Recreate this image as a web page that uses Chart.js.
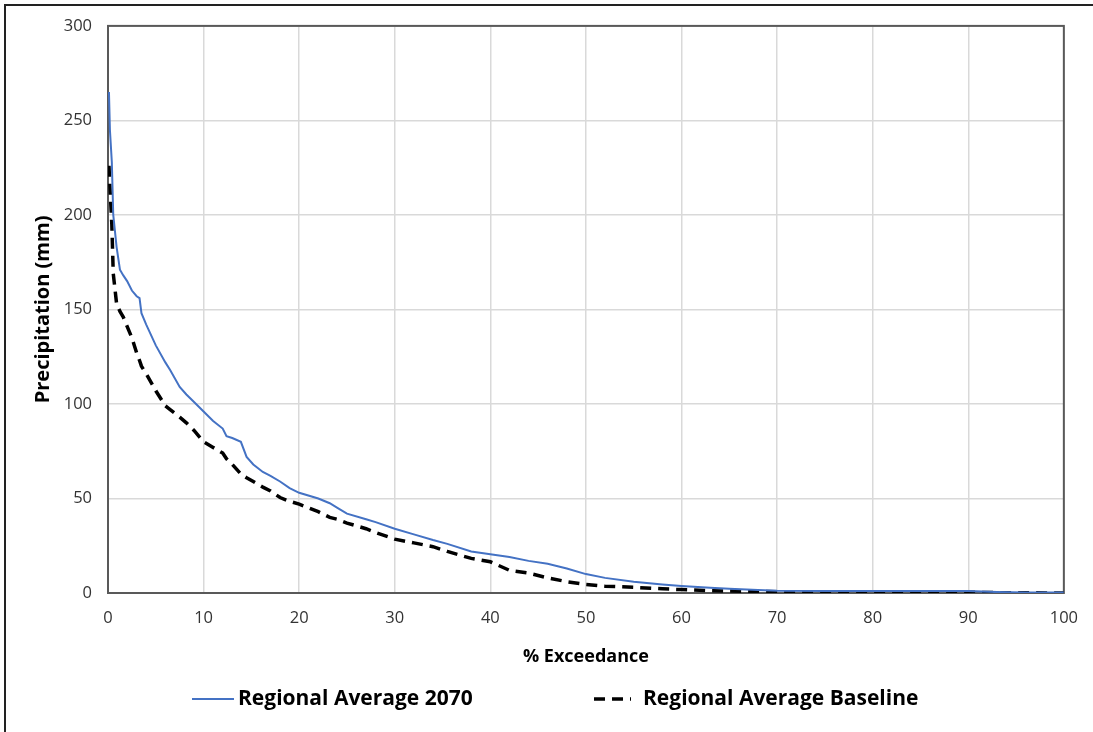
<!DOCTYPE html>
<html>
<head>
<meta charset="utf-8">
<script src="https://cdn.jsdelivr.net/npm/chart.js@4/dist/chart.umd.min.js"></script>
<style>
  html, body { margin: 0; padding: 0; background: #fff; }
  #frame { position: absolute; left: 4px; top: 4px; width: 1089px; height: 728px;
           border-left: 2px solid #222; border-top: 2px solid #222; }
  #wrap { position: absolute; left: 0; top: 0; width: 1093px; height: 732px; }
</style>
</head>
<body>
<div id="frame"></div>
<div id="wrap"><canvas id="chart"></canvas></div>
<script>
// % exceedance (x) and precipitation values (mm)
const exceedance = [0.1, 0.2, 0.4, 0.55, 0.9, 1.25, 1.6, 2, 2.5, 3, 3.3, 3.5, 4, 5, 6, 6.5, 7.5, 8.2, 9, 10,
  11, 12, 12.4, 13, 13.9, 14.5, 15.2, 16.2, 17, 18, 19, 20, 22, 23.2, 24, 25, 27, 28, 30, 32,
  34, 35.5, 38, 40, 42, 44, 46, 48, 50, 52, 55, 58, 60, 63, 65, 68, 70, 75, 80, 85, 90, 93, 96, 100];

const avg2070 = [265, 245, 228, 200, 183, 171, 168, 165, 160, 157, 156, 148, 142, 131, 122, 118, 109, 105, 101, 96,
  91, 87, 83, 82, 80, 72, 68, 64, 62, 59, 55.5, 53, 50, 47.5, 45, 42, 39, 37.5, 34, 31,
  28, 26, 22, 20.5, 19, 17, 15.5, 13, 10, 8, 6, 4.5, 3.7, 2.8, 2.2, 1.6, 1.2, 1, 1, 1, 1, 0.5, 0.3, 0.2];

const avgBaseline = [226, 215, 195, 169, 153, 149, 146, 141, 135, 127, 123, 120, 116, 107, 99, 97, 93, 90, 86, 80,
  77, 74, 71, 68, 63, 61, 59, 56, 54, 50.5, 48.5, 47, 43, 40, 39, 37, 34, 32, 28.5, 26.5,
  24.5, 22, 18.3, 16.5, 12, 10.5, 8, 6, 4.5, 3.6, 3, 2.2, 1.8, 1.2, 1, 0.8, 0.7, 0.6, 0.6, 0.5, 0.4, 0.2, 0.1, 0];

const seriesNames = ['Regional Average 2070', 'Regional Average Baseline'];

const FONT = '"Open Sans", "DejaVu Sans", sans-serif';

function toPoints(values) {
  return exceedance.map((x, i) => ({ x: x, y: values[i] }));
}

// box around the plot area (Excel style)
const plotBox = {
  id: 'plotBox',
  beforeDatasetsDraw(chart) {
    const a = chart.chartArea, ctx = chart.ctx;
    ctx.save();
    ctx.strokeStyle = '#595959';
    ctx.lineWidth = 2;
    ctx.strokeRect(a.left, a.top, a.right - a.left, a.bottom - a.top);
    ctx.restore();
  }
};

// legend under the x-axis title
const bottomLegend = {
  id: 'bottomLegend',
  afterDraw(chart) {
    const ctx = chart.ctx;
    const y = 699;
    ctx.save();
    ctx.font = 'bold 21px ' + FONT;
    ctx.fillStyle = '#000';
    ctx.textBaseline = 'middle';

    ctx.strokeStyle = '#4472C4';
    ctx.lineWidth = 2;
    ctx.beginPath(); ctx.moveTo(192, y); ctx.lineTo(234, y); ctx.stroke();
    ctx.fillText(seriesNames[0], 238, y);

    ctx.strokeStyle = '#000';
    ctx.lineWidth = 3.5;
    ctx.setLineDash([11, 7]);
    ctx.beginPath(); ctx.moveTo(594, y); ctx.lineTo(631, y); ctx.stroke();
    ctx.setLineDash([]);
    ctx.fillText(seriesNames[1], 643, y);
    ctx.restore();
  }
};

const ctx = document.getElementById('chart').getContext('2d');
const chart = new Chart(ctx, {
  type: 'line',
  data: {
    datasets: [{
      label: seriesNames[0],
      data: toPoints(avg2070),
      borderColor: '#4472C4',
      borderWidth: 2,
      pointRadius: 0,
      fill: false,
      tension: 0
    }, {
      label: seriesNames[1],
      data: toPoints(avgBaseline),
      borderColor: '#000000',
      borderWidth: 3.5,
      borderDash: [11, 7],
      pointRadius: 0,
      fill: false,
      tension: 0
    }]
  },
  options: {
    responsive: true,
    maintainAspectRatio: false,
    animation: false,
    layout: { padding: { top: 25, right: 12, bottom: 64, left: 0 } },
    plugins: {
      legend: { display: false },
      tooltip: { enabled: false }
    },
    scales: {
      x: {
        type: 'linear',
        min: 0,
        max: 100,
        ticks: { stepSize: 10, padding: 15, color: '#333', font: { family: FONT, size: 16.5 } },
        grid: { color: '#d9d9d9', lineWidth: 1.5, drawTicks: false },
        border: { display: false },
        title: { display: true, text: '% Exceedance', color: '#000', padding: { top: 8, bottom: 0 },
                 font: { family: FONT, size: 18, weight: 'bold' } },
        afterFit: scale => { scale.height = 75; }
      },
      y: {
        min: 0,
        max: 300,
        ticks: { stepSize: 50, padding: 16, color: '#333', font: { family: FONT, size: 16.5 } },
        grid: { color: '#d9d9d9', lineWidth: 1.5, drawTicks: false },
        border: { display: false },
        title: { display: true, text: 'Precipitation (mm)', color: '#000', padding: { top: 31, bottom: 0 },
                 font: { family: FONT, size: 20, weight: 'bold' } },
        afterFit: scale => { scale.width = 108; }
      }
    }
  },
  plugins: [plotBox, bottomLegend]
});
</script>
</body>
</html>
